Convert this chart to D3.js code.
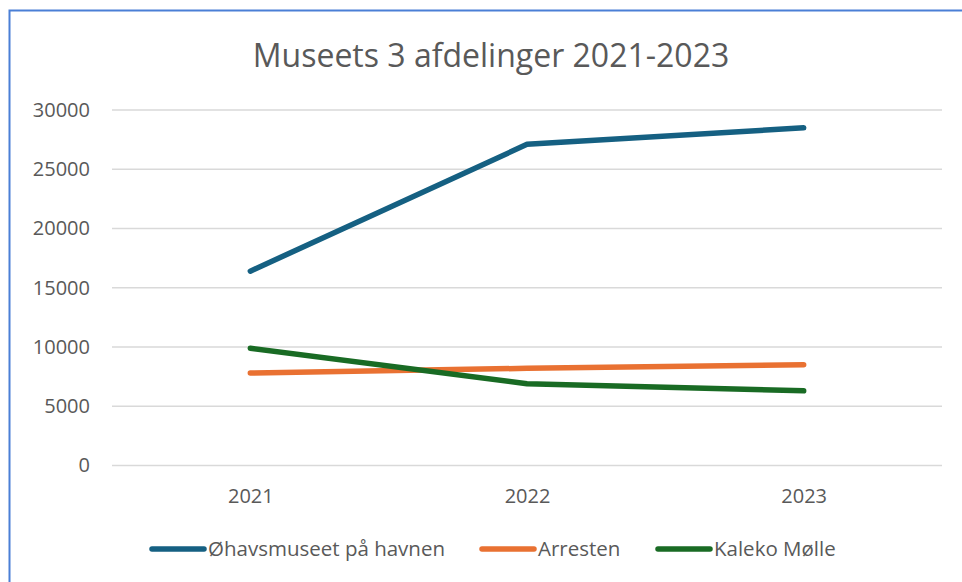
<!DOCTYPE html>
<html>
<head>
<meta charset="utf-8">
<script src="https://cdn.jsdelivr.net/npm/d3@7"></script>
<style>
  body { margin: 0; background: #fff; }
  svg { display: block; }
  text { font-family: "Open Sans", sans-serif; fill: #595959; }
</style>
</head>
<body>
<svg id="chart" width="962" height="582"></svg>
<script>
const years = ["2021", "2022", "2023"];
const series_names = ["Øhavsmuseet på havnen", "Arresten", "Kaleko Mølle"];
const ohavsmuseet = [16400, 27100, 28500];
const arresten = [7800, 8200, 8500];
const kaleko = [9900, 6900, 6300];
const y_ticks = [0, 5000, 10000, 15000, 20000, 25000, 30000];
const colors = ["#156082", "#E97132", "#196B24"];

const all_series = [ohavsmuseet, arresten, kaleko];

const svg = d3.select("#chart");

// border (only top and left visible in the reference)
svg.append("path")
  .attr("d", "M9.5,582 L9.5,10.5 L962,10.5")
  .attr("fill", "none")
  .attr("stroke", "#4a7fd6")
  .attr("stroke-width", 2);

svg.append("text")
  .attr("x", 491)
  .attr("y", 67)
  .attr("text-anchor", "middle")
  .style("font-size", "32px")
  .text("Museets 3 afdelinger 2021-2023");

const x = d3.scalePoint()
  .domain(years)
  .range([112, 942])
  .padding(0.5);

const y = d3.scaleLinear()
  .domain([0, 30000])
  .range([465.5, 110]);

// gridlines
svg.append("g")
  .selectAll("line")
  .data(y_ticks)
  .join("line")
  .attr("x1", 112)
  .attr("x2", 942)
  .attr("y1", (d) => y(d))
  .attr("y2", (d) => y(d))
  .attr("stroke", "#d9d9d9")
  .attr("stroke-width", 1.3);

const y_axis = svg.append("g")
  .attr("transform", "translate(90,0)")
  .call(d3.axisLeft(y).tickValues(y_ticks).tickSize(0).tickPadding(0).tickFormat(d3.format("d")));
y_axis.select(".domain").remove();
y_axis.selectAll("text").style("font-size", "20px").attr("fill", "#595959");

const x_axis = svg.append("g")
  .attr("transform", "translate(0,481)")
  .call(d3.axisBottom(x).tickSize(0).tickPadding(8));
x_axis.select(".domain").remove();
x_axis.selectAll("text").style("font-size", "20px").attr("fill", "#595959");

const line = d3.line()
  .x((d, i) => x(years[i]))
  .y((d) => y(d));

svg.append("g")
  .selectAll("path")
  .data(all_series)
  .join("path")
  .attr("d", line)
  .attr("fill", "none")
  .attr("stroke", (d, i) => colors[i])
  .attr("stroke-width", 5.5)
  .attr("stroke-linecap", "round")
  .attr("stroke-linejoin", "round");

// legend
const legend_x = [152, 482, 658];
const legend = svg.append("g")
  .selectAll("g")
  .data(series_names)
  .join("g")
  .attr("transform", (d, i) => `translate(${legend_x[i]},549)`);

legend.append("line")
  .attr("x1", 0)
  .attr("x2", 52)
  .attr("stroke", (d, i) => colors[i])
  .attr("stroke-width", 5.5)
  .attr("stroke-linecap", "round");

legend.append("text")
  .attr("x", 56)
  .attr("y", 7)
  .style("font-size", "20.5px")
  .text((d) => d);
</script>
</body>
</html>
